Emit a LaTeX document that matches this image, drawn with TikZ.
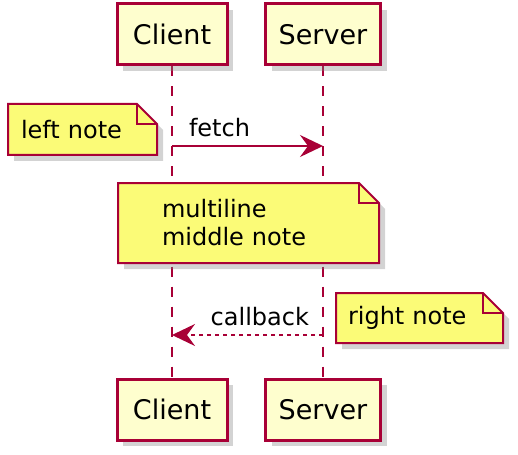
\documentclass[tikz,border=0pt]{standalone}
\usepackage{fontspec}
\setmainfont{DejaVu Sans}
\usepackage{xcolor}
\usetikzlibrary{arrows.meta, shadows, backgrounds}
\definecolor{umlred}{HTML}{A80036}
\definecolor{umlbox}{HTML}{FEFECE}
\definecolor{umlnote}{HTML}{FBFB77}
\newcommand{\notefold}[1]{%
	\begin{scope}[on background layer]
		\filldraw [fill=umlnote, draw=umlred, line width=1pt, drop shadow={shadow xshift=3pt, shadow yshift=-3pt, fill=black!50, opacity=0.35}] (#1.south west) -- (#1.north west) -- ([xshift=-10pt]#1.north east) -- ([yshift=-10pt]#1.north east) -- (#1.south east) -- cycle;
	\end{scope}
	\draw [color=umlred, line width=1pt] ([xshift=-10pt]#1.north east) -- ([xshift=-10pt,yshift=-10pt]#1.north east) -- ([yshift=-10pt]#1.north east);
}

\begin{document}
\begin{tikzpicture}[x=0.5pt, y=-0.5pt,
		member/.style={draw=umlred, fill=umlbox, line width=1.5pt, minimum width=55pt, minimum height=30.5pt, inner sep=0pt, font=\fontsize{13.5}{16}\selectfont, drop shadow={shadow xshift=3pt, shadow yshift=-3pt, fill=black!50, opacity=0.35}},
		memo/.style={anchor=north west, align=left, inner ysep=0pt, outer sep=0pt, font=\fontsize{12}{14}\selectfont},
		life/.style={draw=umlred, line width=1pt, dash pattern=on 5pt off 5pt},
		msg/.style={color=umlred, line width=1pt, -{Stealth[length=11.5pt, width=11pt, inset=4pt]}},
		lbl/.style={inner sep=0pt, text=black, font=\fontsize{12}{14}\selectfont}]
		\useasboundingbox (0,0) rectangle (518,454);
		\node [member] (clientTop) at (172,34.5) {Client};
		\node [member, minimum width=57.5pt] (serverTop) at (323,34.5) {Server};
		\node [member] (clientBot) at (172,409.5) {Client};
		\node [member, minimum width=57.5pt] (serverBot) at (323,409.5) {Server};
		\begin{scope}[on background layer]
			\draw [life] (clientTop) -- (clientBot);
			\draw [life] (serverTop) -- (serverBot);
		\end{scope}
		\coordinate (fetchA) at (clientTop |- 0,146);
		\coordinate (fetchB) at (serverTop |- 0,146);
		\draw [msg] (fetchA) -- node [lbl, pos=0, anchor=base west, xshift=8pt, yshift=4.5pt] (fetchLbl) {fetch} (fetchB);
		\coordinate (backA) at (serverTop |- 0,335);
		\coordinate (backB) at (clientTop |- 0,335);
		\draw [msg, dash pattern=on 2pt off 2pt] (backA) -- node [lbl, pos=0, anchor=base east, xshift=-6.5pt, yshift=5pt] (backLbl) {callback} (backB);
		\node [memo, text width=61.5pt, inner xsep=6.5pt, minimum height=25.5pt] (leftNote) at (8,104) {left note};
		\notefold{leftNote}
		\node [memo, text width=86.5pt, inner xsep=22pt, minimum height=40pt] (midNote) at (118,183) {multiline\\middle note};
		\notefold{midNote}
		\node [memo, text width=71.5pt, inner xsep=6pt, minimum height=25pt] (rightNote) at (336,293) {right note};
		\notefold{rightNote}
	\end{tikzpicture}
\end{document}
